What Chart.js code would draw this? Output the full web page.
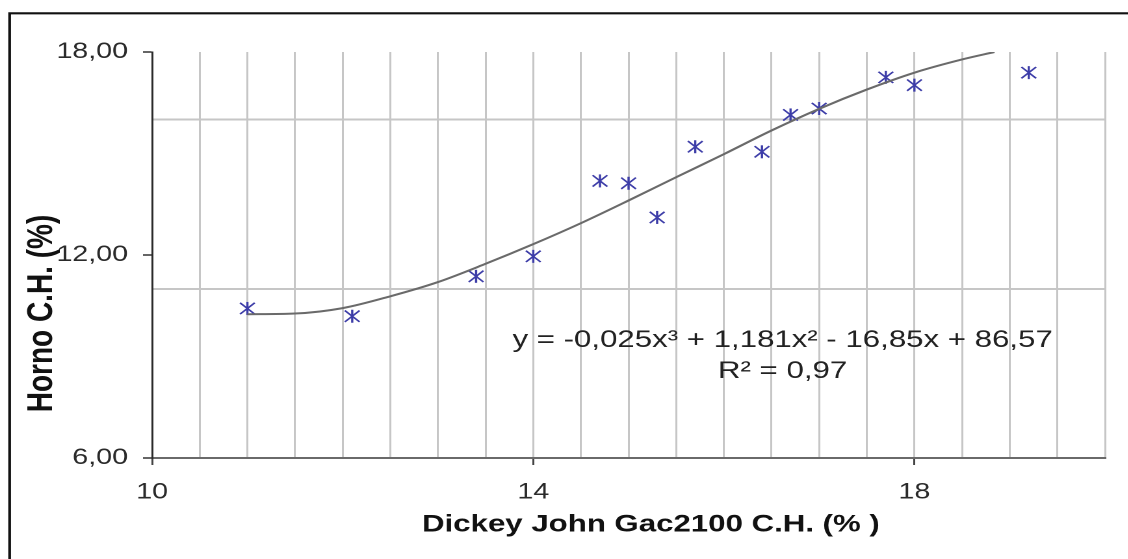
<!DOCTYPE html>
<html>
<head>
<meta charset="utf-8">
<script src="https://cdn.jsdelivr.net/npm/chart.js@4.4.1/dist/chart.umd.min.js"></script>
<style>
  html, body { margin: 0; padding: 0; background: #fff; overflow: hidden; }
  #wrap { width: 1128px; height: 559px; overflow: hidden; }
  #c { display: block; transform: scaleX(1.3); transform-origin: 0 0; }
</style>
</head>
<body>
<div id="wrap"><canvas id="c" width="868" height="559"></canvas></div>
<script>
// Moisture content: Dickey John Gac2100 meter vs. oven method
const dickeyJohn = [11.0, 12.1, 13.4, 14.0, 14.7, 15.0, 15.3, 15.7, 16.4, 16.7, 17.0, 17.7, 18.0, 19.2];
const horno      = [10.42, 10.19, 11.37, 11.96, 14.19, 14.12, 13.11, 15.20, 15.05, 16.14, 16.33, 17.25, 17.02, 17.39];

// Polynomial trend line (3rd order), sampled along x
const trendX = [11, 11.5, 12, 12.5, 13, 13.5, 14, 14.5, 15, 15.5, 16, 16.5, 17, 17.5, 18, 18.5, 18.84];
const trendY = [10.25, 10.27, 10.43, 10.78, 11.20, 11.74, 12.32, 12.94, 13.61, 14.30, 14.98, 15.68, 16.32, 16.89, 17.39, 17.78, 18.0];

const xTickLabels = [10, 14, 18];
const yTickLabels = [6, 12, 18];
const yGridLines  = [11, 16];

const equationText = 'y = -0,025x³ + 1,181x² - 16,85x + 86,57';
const r2Text = 'R² = 0,97';
const xTitle = 'Dickey John Gac2100 C.H. (% )';
const yTitle = 'Horno C.H. (%)';

const FONT = '"Liberation Sans", Arial, Helvetica, sans-serif';
const GRID = '#c6c6c6';
const MARK = '#3d3da8';

const toPoints = (xs, ys) => xs.map((x, i) => ({ x: x, y: ys[i] }));

// White page background and the outer frame (left and top rules)
const framePlugin = {
  id: 'frame',
  beforeDraw(chart) {
    const ctx = chart.ctx;
    ctx.save();
    ctx.fillStyle = '#fff';
    ctx.fillRect(0, 0, chart.width, chart.height);
    ctx.restore();
  },
  afterDraw(chart) {
    const ctx = chart.ctx;
    ctx.save();
    ctx.strokeStyle = '#111';
    ctx.lineWidth = 2.1;
    ctx.beginPath();
    ctx.moveTo(7.4, chart.height);
    ctx.lineTo(7.4, 13.3);
    ctx.lineTo(chart.width, 13.3);
    ctx.stroke();
    ctx.restore();
  }
};

// Axis titles and the trend-line equation
const captionPlugin = {
  id: 'captions',
  afterDraw(chart) {
    const ctx = chart.ctx;
    const area = chart.chartArea;
    ctx.save();
    ctx.fillStyle = '#111';

    ctx.font = 'bold 24px ' + FONT;
    ctx.textAlign = 'center';
    ctx.textBaseline = 'middle';
    ctx.fillText(xTitle, area.left + 383.7, 525);

    ctx.save();
    ctx.translate(32.3, 313.5);
    ctx.rotate(-Math.PI / 2);
    ctx.font = 'bold 28px ' + FONT;
    ctx.fillText(yTitle, 0, 0);
    ctx.restore();

    ctx.fillStyle = '#222';
    ctx.font = '24px ' + FONT;
    ctx.textBaseline = 'alphabetic';
    ctx.fillText(equationText, area.left + 485, 347);
    ctx.fillText(r2Text, area.left + 485, 378);
    ctx.restore();
  }
};

new Chart(document.getElementById('c'), {
  type: 'scatter',
  data: {
    datasets: [
      {
        label: 'Tendencia',
        type: 'line',
        data: toPoints(trendX, trendY),
        borderColor: '#6a6a6a',
        borderWidth: 2,
        pointRadius: 0,
        fill: false,
        cubicInterpolationMode: 'monotone',
        order: 0
      },
      {
        label: 'Horno C.H.',
        data: toPoints(dickeyJohn, horno),
        pointStyle: 'crossRot',
        pointRadius: 8,
        pointBorderWidth: 1.5,
        borderColor: MARK,
        backgroundColor: MARK,
        order: 1
      },
      {
        label: 'Horno C.H. (eje)',
        data: toPoints(dickeyJohn, horno),
        pointStyle: 'line',
        pointRotation: 90,
        pointRadius: 6.5,
        pointBorderWidth: 1.7,
        borderColor: MARK,
        backgroundColor: MARK,
        order: 1
      }
    ]
  },
  options: {
    responsive: false,
    animation: false,
    devicePixelRatio: 2,
    layout: { padding: { left: 0, top: 52, right: 18, bottom: 0 } },
    plugins: {
      legend: { display: false },
      tooltip: { enabled: false }
    },
    scales: {
      x: {
        type: 'linear',
        min: 10,
        max: 20,
        afterFit(scale) { scale.height = 101; },
        ticks: {
          stepSize: 0.5,
          maxTicksLimit: 100,
          autoSkip: false,
          maxRotation: 0,
          padding: 14,
          color: '#2a2a2a',
          font: { family: FONT, size: 22 },
          callback: (v) => xTickLabels.includes(v) ? String(v) : ''
        },
        grid: {
          color: (c) => (c.tick && c.tick.value === 10) ? 'rgba(0,0,0,0)' : GRID,
          lineWidth: 1.5,
          drawTicks: true,
          tickLength: 7,
          tickWidth: 1.5,
          tickColor: (c) => (c.tick && xTickLabels.includes(c.tick.value)) ? '#444' : 'rgba(0,0,0,0)'
        },
        border: { display: true, color: '#6a6a6a', width: 2 }
      },
      y: {
        type: 'linear',
        min: 6,
        max: 18,
        afterFit(scale) { scale.width = 117; },
        afterBuildTicks(scale) {
          scale.ticks = yTickLabels.concat(yGridLines).sort((a, b) => a - b).map(v => ({ value: v }));
        },
        ticks: {
          padding: 11.5,
          color: '#2a2a2a',
          font: { family: FONT, size: 22 },
          callback: (v) => yTickLabels.includes(v) ? v.toFixed(2).replace('.', ',') : ''
        },
        grid: {
          color: (c) => (c.tick && yGridLines.includes(c.tick.value)) ? GRID : 'rgba(0,0,0,0)',
          lineWidth: 2,
          drawTicks: true,
          tickLength: 7,
          tickWidth: 1.5,
          tickColor: (c) => (c.tick && yTickLabels.includes(c.tick.value)) ? '#333' : 'rgba(0,0,0,0)'
        },
        border: { display: true, color: '#2a2a2a', width: 1.5 }
      }
    }
  },
  plugins: [framePlugin, captionPlugin]
});
</script>
</body>
</html>
